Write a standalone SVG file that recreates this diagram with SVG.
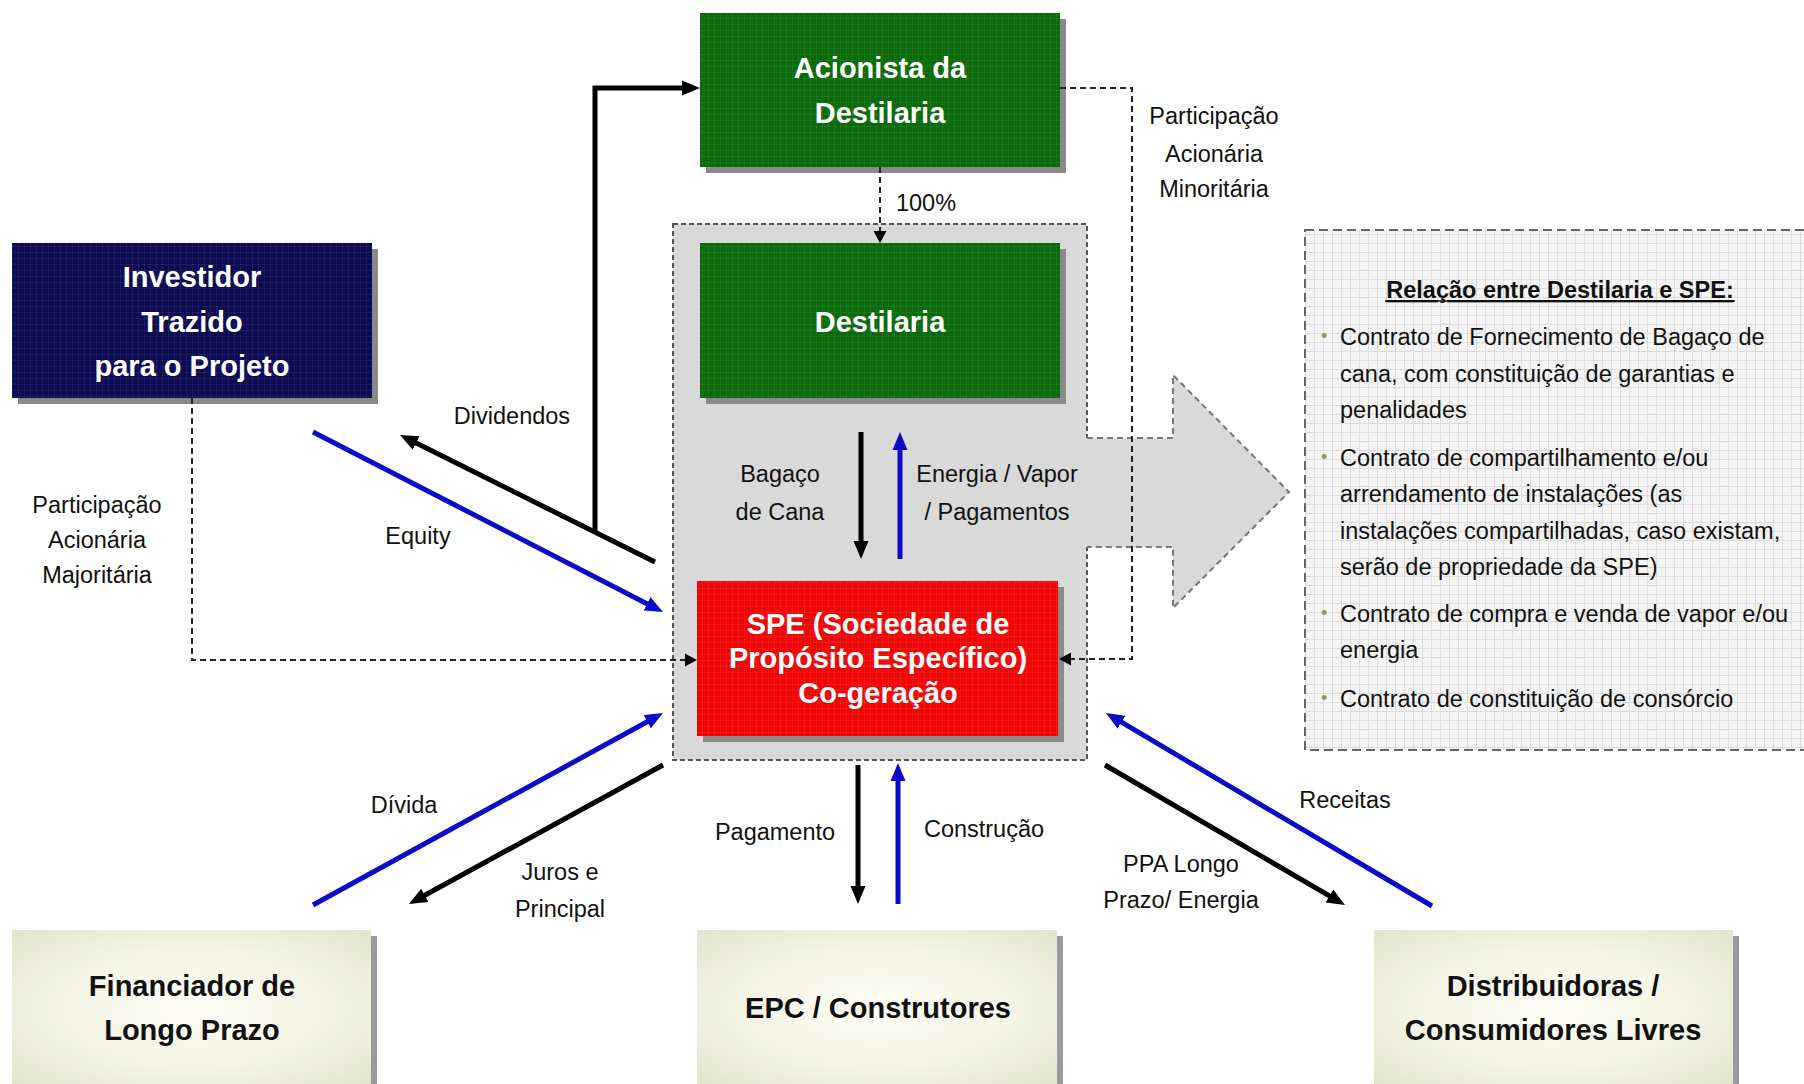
<svg xmlns="http://www.w3.org/2000/svg" width="1804" height="1084" viewBox="0 0 1804 1084">
<defs>
<style>
.box-t{font-family:"Liberation Sans",Arial,sans-serif;font-weight:bold;font-size:29px;text-anchor:middle}
.w{fill:#ffffff}
.k{fill:#111111}
.lbl{font-family:"Liberation Sans",Arial,sans-serif;font-size:23.5px;fill:#111;text-anchor:middle}
.note{font-family:"Liberation Sans",Arial,sans-serif;font-size:23.5px;fill:#111}
.sh{fill:#8a8a8a}
.blk{stroke:#000;stroke-width:5;fill:none}
.blu{stroke:#0a0ac8;stroke-width:5;fill:none}
.dsh{stroke:#222;stroke-width:2;stroke-dasharray:6 4;fill:none}
</style>
<pattern id="gridD" width="6" height="6" patternUnits="userSpaceOnUse">
<path d="M0 0.5H6M0.5 0V6" stroke="#ffffff" stroke-opacity="0.06" stroke-width="1"/>
</pattern>
<pattern id="gridL" width="9" height="9" patternUnits="userSpaceOnUse">
<rect width="9" height="9" fill="#f4f4f4"/>
<path d="M0 0.5H9M0.5 0V9" stroke="#dcdcdc" stroke-width="1"/>
</pattern>
<radialGradient id="beige" cx="0.5" cy="0.5" r="0.7">
<stop offset="0" stop-color="#fdfdf4"/>
<stop offset="0.55" stop-color="#f3f4e4"/>
<stop offset="1" stop-color="#e2e5cc"/>
</radialGradient>
<marker id="ak" viewBox="0 -8 18 16" markerWidth="18" markerHeight="16" refX="1" refY="0" orient="auto" markerUnits="userSpaceOnUse">
<path d="M0,-7.5 L18,0 L0,7.5 z" fill="#000"/>
</marker>
<marker id="ab" viewBox="0 -8 18 16" markerWidth="18" markerHeight="16" refX="1" refY="0" orient="auto" markerUnits="userSpaceOnUse">
<path d="M0,-7.5 L18,0 L0,7.5 z" fill="#0a0ac8"/>
</marker>
<marker id="ad" viewBox="0 -7 12 14" markerWidth="12" markerHeight="14" refX="1" refY="0" orient="auto" markerUnits="userSpaceOnUse">
<path d="M0,-6.5 L12,0 L0,6.5 z" fill="#000"/>
</marker>
</defs>
<rect width="1804" height="1084" fill="#ffffff"/>

<!-- container -->
<g id="container">
<rect x="673" y="224" width="414" height="536" fill="#d9d9d9" stroke="#555" stroke-width="2" stroke-dasharray="5 3"/>
</g>

<!-- big arrow -->
<g id="big-arrow">
<polygon points="1083,438 1173,438 1173,375 1289,492 1173,608 1173,547 1083,547" fill="#d9d9d9"/>
<polyline points="1087,438 1173,438 1173,375 1289,492 1173,608 1173,547 1087,547" fill="none" stroke="#777" stroke-width="2" stroke-dasharray="6 4"/>
</g>

<!-- note box -->
<g id="note">
<rect x="1305" y="230" width="510" height="520" fill="url(#gridL)" stroke="#666" stroke-width="2" stroke-dasharray="9 5"/>
<text class="note" x="1560" y="298" text-anchor="middle" font-weight="bold" text-decoration="underline">Relação entre Destilaria e SPE:</text>
<line x1="1385" y1="301" x2="1735" y2="301" stroke="#111" stroke-width="1.5"/>
<g fill="#8a9a5a" font-family="Liberation Sans, Arial, sans-serif" font-size="18px">
<text x="1321" y="342">•</text>
<text x="1321" y="463">•</text>
<text x="1321" y="619">•</text>
<text x="1321" y="704">•</text>
</g>
<text class="note" x="1340" y="345">Contrato de Fornecimento de Bagaço de</text>
<text class="note" x="1340" y="382">cana, com constituição de garantias e</text>
<text class="note" x="1340" y="418">penalidades</text>
<text class="note" x="1340" y="466">Contrato de compartilhamento e/ou</text>
<text class="note" x="1340" y="502">arrendamento de instalações (as</text>
<text class="note" x="1340" y="539">instalações compartilhadas, caso existam,</text>
<text class="note" x="1340" y="575">serão de propriedade da SPE)</text>
<text class="note" x="1340" y="622">Contrato de compra e venda de vapor e/ou</text>
<text class="note" x="1340" y="658">energia</text>
<text class="note" x="1340" y="707">Contrato de constituição de consórcio</text>
</g>

<!-- nodes -->
<g id="acionista">
<rect class="sh" x="706" y="19" width="360" height="154"/>
<rect x="700" y="13" width="360" height="154" fill="#0b6a0b"/>
<rect x="700" y="13" width="360" height="154" fill="url(#gridD)"/>
<text class="box-t w" x="880" y="78">Acionista da</text>
<text class="box-t w" x="880" y="123">Destilaria</text>
</g>
<g id="destilaria">
<rect class="sh" x="706" y="249" width="360" height="155"/>
<rect x="700" y="243" width="360" height="155" fill="#0b6a0b"/>
<rect x="700" y="243" width="360" height="155" fill="url(#gridD)"/>
<text class="box-t w" x="880" y="332">Destilaria</text>
</g>
<g id="investidor">
<rect class="sh" x="18" y="249" width="360" height="155"/>
<rect x="12" y="243" width="360" height="155" fill="#0c0c52"/>
<rect x="12" y="243" width="360" height="155" fill="url(#gridD)"/>
<text class="box-t w" x="192" y="287">Investidor</text>
<text class="box-t w" x="192" y="332">Trazido</text>
<text class="box-t w" x="192" y="376">para o Projeto</text>
</g>
<g id="spe">
<rect class="sh" x="703" y="587" width="361" height="155"/>
<rect x="697" y="581" width="361" height="155" fill="#f20505"/>
<rect x="697" y="581" width="361" height="155" fill="url(#gridD)"/>
<text class="box-t w" x="878" y="634">SPE (Sociedade de</text>
<text class="box-t w" x="878" y="668">Propósito Específico)</text>
<text class="box-t w" x="878" y="703">Co-geração</text>
</g>
<g id="financiador">
<rect x="18" y="936" width="359" height="160" fill="#9a9a9a"/>
<rect x="12" y="930" width="359" height="156" fill="url(#beige)"/>
<text class="box-t k" x="192" y="996">Financiador de</text>
<text class="box-t k" x="192" y="1040">Longo Prazo</text>
</g>
<g id="epc">
<rect x="703" y="936" width="360" height="160" fill="#9a9a9a"/>
<rect x="697" y="930" width="360" height="156" fill="url(#beige)"/>
<text class="box-t k" x="878" y="1018">EPC / Construtores</text>
</g>
<g id="distribuidoras">
<rect x="1380" y="936" width="359" height="160" fill="#9a9a9a"/>
<rect x="1374" y="930" width="359" height="156" fill="url(#beige)"/>
<text class="box-t k" x="1553" y="996">Distribuidoras /</text>
<text class="box-t k" x="1553" y="1040">Consumidores Livres</text>
</g>

<!-- connectors -->
<g id="connectors">
<path class="dsh" d="M880 167 V232" marker-end="url(#ad)"/>
<path class="dsh" d="M192 398 V660 H686" marker-end="url(#ad)"/>
<path class="dsh" d="M1060 88 H1132 V659 H1070" marker-end="url(#ad)"/>
<path class="blk" d="M655 562 L415.2 442.6" marker-end="url(#ak)"/>
<path class="blk" stroke-width="4" d="M595 532 V88 H683" marker-end="url(#ak)"/>
<path class="blu" d="M313 432 L647.9 604.2" marker-end="url(#ab)"/>
<path class="blk" stroke-width="4" d="M861 432 V542" marker-end="url(#ak)"/>
<path class="blu" d="M900 559 V449" marker-end="url(#ab)"/>
<path class="blu" d="M313 905 L648.1 721.2" marker-end="url(#ab)"/>
<path class="blk" d="M663 765 L423.9 895.8" marker-end="url(#ak)"/>
<path class="blk" stroke-width="4" d="M858 765 V887" marker-end="url(#ak)"/>
<path class="blu" d="M898 904 V780" marker-end="url(#ab)"/>
<path class="blk" d="M1105 765 L1330.3 896.4" marker-end="url(#ak)"/>
<path class="blu" d="M1432 906 L1120.6 721.7" marker-end="url(#ab)"/>
</g>

<!-- labels -->
<g id="labels">
<text class="lbl" x="926" y="211">100%</text>
<text class="lbl" x="1214" y="124">Participação</text>
<text class="lbl" x="1214" y="162">Acionária</text>
<text class="lbl" x="1214" y="197">Minoritária</text>
<text class="lbl" x="512" y="424">Dividendos</text>
<text class="lbl" x="418" y="544">Equity</text>
<text class="lbl" x="97" y="513">Participação</text>
<text class="lbl" x="97" y="548">Acionária</text>
<text class="lbl" x="97" y="583">Majoritária</text>
<text class="lbl" x="780" y="482">Bagaço</text>
<text class="lbl" x="780" y="520">de Cana</text>
<text class="lbl" x="997" y="482">Energia / Vapor</text>
<text class="lbl" x="997" y="520">/ Pagamentos</text>
<text class="lbl" x="404" y="813">Dívida</text>
<text class="lbl" x="560" y="880">Juros e</text>
<text class="lbl" x="560" y="917">Principal</text>
<text class="lbl" x="775" y="840">Pagamento</text>
<text class="lbl" x="984" y="837">Construção</text>
<text class="lbl" x="1181" y="872">PPA Longo</text>
<text class="lbl" x="1181" y="908">Prazo/ Energia</text>
<text class="lbl" x="1345" y="808">Receitas</text>
</g>
</svg>
